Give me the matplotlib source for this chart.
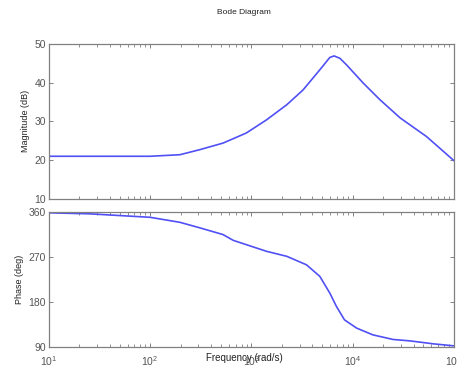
import matplotlib
matplotlib.use("Agg")
import matplotlib.pyplot as plt
import numpy as np
from matplotlib.ticker import LogLocator, NullFormatter

plt.rcParams["font.family"] = ["Liberation Sans", "DejaVu Sans"]

# values (log10 of frequency in rad/s)
mag_logw = [1.0, 1.5, 2.0, 2.294, 2.49, 2.72, 2.95, 3.15, 3.35, 3.51, 3.676,
            3.775, 3.817, 3.874, 3.94, 4.105, 4.27, 4.47, 4.73, 5.0]
mag_db = [21.0, 21.0, 21.0, 21.4, 22.7, 24.4, 27.0, 30.4, 34.3, 38.1, 43.3,
          46.5, 46.9, 46.3, 44.6, 39.9, 35.6, 30.9, 26.1, 19.9]

phase_logw = [1.0, 1.4, 2.0, 2.294, 2.49, 2.72, 2.82, 3.15, 3.35, 3.545, 3.676,
              3.775, 3.84, 3.92, 4.04, 4.2, 4.4, 4.565, 4.8, 5.0]
phase_deg = [358, 356, 349, 339, 328, 314.5, 303, 281, 271, 254, 231,
             197.6, 171, 144, 127.5, 114, 104.8, 102, 96, 92]

mag_ticks = [10, 20, 30, 40, 50]
phase_ticks = [90, 180, 270, 360]

line_color = "#5050f5"
axis_color = "#808080"
text_color = "#555555"

fig = plt.figure(figsize=(4.57, 3.69), dpi=100)
ax1 = fig.add_axes([0.107, 0.461, 0.886, 0.420])
ax2 = fig.add_axes([0.107, 0.060, 0.886, 0.366])

ax1.plot(10 ** np.array(mag_logw), mag_db, color=line_color, lw=1.2)
ax2.plot(10 ** np.array(phase_logw), phase_deg, color=line_color, lw=1.2)

for ax, ticks in ((ax1, mag_ticks), (ax2, phase_ticks)):
    ax.set_xscale("log")
    ax.set_xlim(10, 1e5)
    ax.set_ylim(ticks[0], ticks[-1])
    ax.set_yticks(ticks)
    ax.xaxis.set_major_locator(LogLocator(base=10, numticks=10))
    ax.xaxis.set_minor_locator(LogLocator(base=10, subs=np.arange(2, 10), numticks=10))
    ax.xaxis.set_minor_formatter(NullFormatter())
    ax.tick_params(which="both", direction="in", top=True, right=True,
                   color=axis_color, labelcolor=text_color, labelsize=7.5, pad=2)
    ax.tick_params(which="major", length=3, width=0.7)
    ax.tick_params(which="minor", length=2, width=0.6)
    for s in ax.spines.values():
        s.set_color(axis_color)
        s.set_linewidth(0.9)

ax1.tick_params(axis="x", labelbottom=False)
ax2.tick_params(axis="x", which="both", pad=5)
ax1.set_ylabel("Magnitude (dB)", fontsize=6.5, color="#222222", labelpad=3)
ax2.set_ylabel("Phase (deg)", fontsize=6.5, color="#222222", labelpad=3)
ax2.set_xlabel("Frequency (rad/s)", fontsize=7, color="#222222")
ax2.xaxis.set_label_coords(0.484, -0.045)

fig.text(0.534, 0.967, "Bode Diagram", fontsize=6, color="#222222",
         ha="center", va="center")

fig.savefig("out.png", dpi=100)
